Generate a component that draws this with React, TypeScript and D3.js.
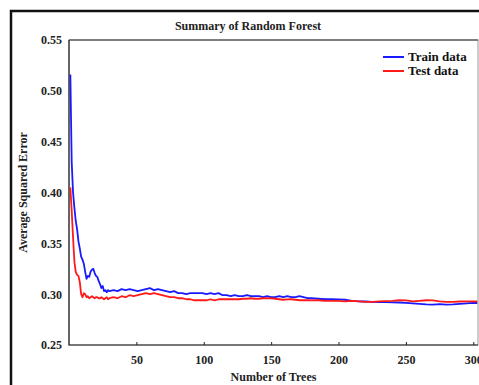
import React, { useEffect, useRef } from "react";
import * as d3 from "d3";

const treeCounts = [
  1, 2, 3, 4, 5, 6, 7, 8, 9, 10, 11, 12, 13, 14, 15, 16, 17, 18, 19, 20, 21, 22, 23, 24, 25, 26, 27, 28, 29, 30,
  33, 36, 39, 42, 45, 48, 51, 54, 57, 60, 63, 66, 69, 72, 75, 78, 81, 84, 87, 90, 93, 96, 99, 102, 105, 108,
  111, 114, 117, 120, 123, 126, 129, 132, 135, 138, 141, 144, 147, 150, 153, 156, 159, 162, 165, 168, 171, 174,
  177, 180, 185, 190, 195, 200, 205, 210, 215, 220, 225, 230, 235, 240, 245, 250, 255, 260, 265, 270, 275, 280,
  285, 290, 295, 300, 303,
];

const trainError = [
  0.516, 0.43, 0.4, 0.385, 0.372, 0.364, 0.352, 0.345, 0.337, 0.334, 0.33, 0.322, 0.315, 0.318, 0.317, 0.322,
  0.324, 0.325, 0.321, 0.318, 0.317, 0.313, 0.31, 0.306, 0.308, 0.303, 0.304, 0.302, 0.304, 0.303,
  0.304, 0.303, 0.305, 0.304, 0.305, 0.304, 0.303, 0.304, 0.305, 0.306, 0.304, 0.305, 0.304, 0.303, 0.302, 0.303,
  0.301, 0.301, 0.3, 0.301, 0.301, 0.301, 0.301, 0.3, 0.301, 0.3, 0.301, 0.299, 0.299, 0.298, 0.299, 0.298,
  0.298, 0.299, 0.298, 0.298, 0.298, 0.297, 0.298, 0.297, 0.297, 0.298, 0.297, 0.298, 0.297, 0.297, 0.298, 0.297,
  0.296, 0.296, 0.2955, 0.295, 0.295, 0.2948, 0.2945, 0.2935, 0.293, 0.2928, 0.2925, 0.2923, 0.2922, 0.292,
  0.2918, 0.2915, 0.291, 0.2905, 0.29, 0.2898, 0.2902, 0.2897, 0.29, 0.2905, 0.291, 0.2915, 0.2913,
];

const testError = [
  0.405, 0.382, 0.356, 0.332, 0.322, 0.319, 0.318, 0.312, 0.3, 0.297, 0.301, 0.3, 0.297, 0.298, 0.296, 0.297,
  0.298, 0.297, 0.296, 0.297, 0.297, 0.296, 0.296, 0.297, 0.296, 0.295, 0.296, 0.297, 0.295, 0.296,
  0.297, 0.296, 0.298, 0.297, 0.299, 0.298, 0.299, 0.3, 0.301, 0.3, 0.301, 0.3, 0.299, 0.298, 0.297, 0.297,
  0.296, 0.296, 0.295, 0.295, 0.294, 0.294, 0.294, 0.294, 0.295, 0.294, 0.295, 0.295, 0.295, 0.295, 0.295, 0.295,
  0.2955, 0.2955, 0.296, 0.2955, 0.2955, 0.296, 0.296, 0.2958, 0.2955, 0.295, 0.2945, 0.2948, 0.295, 0.2945,
  0.294, 0.294, 0.2942, 0.2938, 0.294, 0.2935, 0.2935, 0.2935, 0.293, 0.2935, 0.293, 0.2925, 0.2925, 0.293,
  0.2932, 0.2935, 0.294, 0.2938, 0.293, 0.2935, 0.294, 0.2938, 0.293, 0.2925, 0.2925, 0.2928, 0.293, 0.293, 0.2928,
];

const xTicks = [50, 100, 150, 200, 250, 300];
const yTicks = [0.25, 0.3, 0.35, 0.4, 0.45, 0.5, 0.55];
const seriesNames = ["Train data", "Test data"];
const seriesColors = ["#1a1aff", "#ff1a1a"];

const App: React.FC = () => {
  const ref = useRef<SVGSVGElement | null>(null);

  useEffect(() => {
    if (ref.current) draw();
  }, []);

  const draw = () => {
    const width = 479;
    const height = 385;
    const m = { left: 69, right: 1, top: 40, bottom: 40 };
    const font = "'Liberation Serif', 'Times New Roman', serif";

    const svg = d3.select(ref.current).attr("width", width).attr("height", height);
    svg.selectAll("*").remove();

    svg.append("rect").attr("width", width).attr("height", height).attr("fill", "#fff");

    // outer frame (top + left only are visible)
    svg.append("path")
      .attr("d", `M11,${height} L11,11 L${width},11`)
      .attr("fill", "none")
      .attr("stroke", "#111")
      .attr("stroke-width", 2.5);

    const x = d3.scaleLinear().domain([0, 303.5]).range([m.left, width - m.right]);
    const y = d3.scaleLinear().domain([0.25, 0.55]).range([height - m.bottom, m.top]);

    // plot box
    svg.append("rect")
      .attr("x", m.left)
      .attr("y", m.top)
      .attr("width", width - m.right - m.left)
      .attr("height", height - m.bottom - m.top)
      .attr("fill", "none")
      .attr("stroke", "#999")
      .attr("stroke-width", 1);
    svg.append("path")
      .attr("d", `M${m.left},${m.top} L${m.left},${height - m.bottom} L${width - m.right},${height - m.bottom}`)
      .attr("fill", "none")
      .attr("stroke", "#222")
      .attr("stroke-width", 1.2);
    svg.append("line")
      .attr("x1", m.left).attr("x2", width - m.right)
      .attr("y1", m.top).attr("y2", m.top)
      .attr("stroke", "#333");

    const xAxis = svg.append("g")
      .attr("transform", `translate(0,${height - m.bottom})`)
      .call(d3.axisBottom(x).tickValues(xTicks).tickSizeInner(-3).tickSizeOuter(0).tickPadding(10));
    xAxis.select(".domain").remove();
    xAxis.selectAll("line").attr("stroke", "#222");
    xAxis.selectAll("text")
      .attr("font-family", font).attr("font-size", 12).attr("font-weight", "bold").attr("fill", "#222");

    const yAxis = svg.append("g")
      .attr("transform", `translate(${m.left},0)`)
      .call(d3.axisLeft(y).tickValues(yTicks).tickFormat(d3.format(".2f")).tickSizeInner(0).tickSizeOuter(0).tickPadding(7));
    yAxis.select(".domain").remove();
    yAxis.selectAll("text")
      .attr("font-family", font).attr("font-size", 12).attr("font-weight", "bold").attr("fill", "#222");

    const line = d3.line<number>()
      .x((_, i) => x(treeCounts[i]))
      .y((d) => y(d));

    [trainError, testError].forEach((vals, k) => {
      svg.append("path")
        .datum(vals)
        .attr("fill", "none")
        .attr("stroke", seriesColors[k])
        .attr("stroke-width", 1.8)
        .attr("stroke-linejoin", "round")
        .attr("d", line);
    });

    // titles
    svg.append("text")
      .attr("x", 248).attr("y", 30)
      .attr("text-anchor", "middle")
      .attr("font-family", font).attr("font-size", 12).attr("font-weight", "bold").attr("fill", "#222")
      .text("Summary of Random Forest");
    svg.append("text")
      .attr("x", (m.left + width - m.right) / 2).attr("y", 381)
      .attr("text-anchor", "middle")
      .attr("font-family", font).attr("font-size", 12).attr("font-weight", "bold").attr("fill", "#222")
      .text("Number of Trees");
    svg.append("text")
      .attr("transform", `translate(27,${(m.top + height - m.bottom) / 2}) rotate(-90)`)
      .attr("text-anchor", "middle")
      .attr("font-family", font).attr("font-size", 12).attr("font-weight", "bold").attr("fill", "#222")
      .text("Average Squared Error");

    // legend
    const legend = svg.append("g").attr("transform", "translate(383,57)");
    seriesNames.forEach((name, k) => {
      const g = legend.append("g").attr("transform", `translate(0,${k * 14})`);
      g.append("line").attr("x1", 0).attr("x2", 21).attr("y1", 0).attr("y2", 0)
        .attr("stroke", seriesColors[k]).attr("stroke-width", 2);
      g.append("text").attr("x", 25).attr("y", 4)
        .attr("font-family", font).attr("font-size", 13).attr("font-weight", "bold").attr("fill", "#111")
        .text(name);
    });
  };

  return (
    <svg ref={ref} style={{ position: "absolute", left: 0, top: 0, display: "block" }}></svg>
  );
};

export default App;
